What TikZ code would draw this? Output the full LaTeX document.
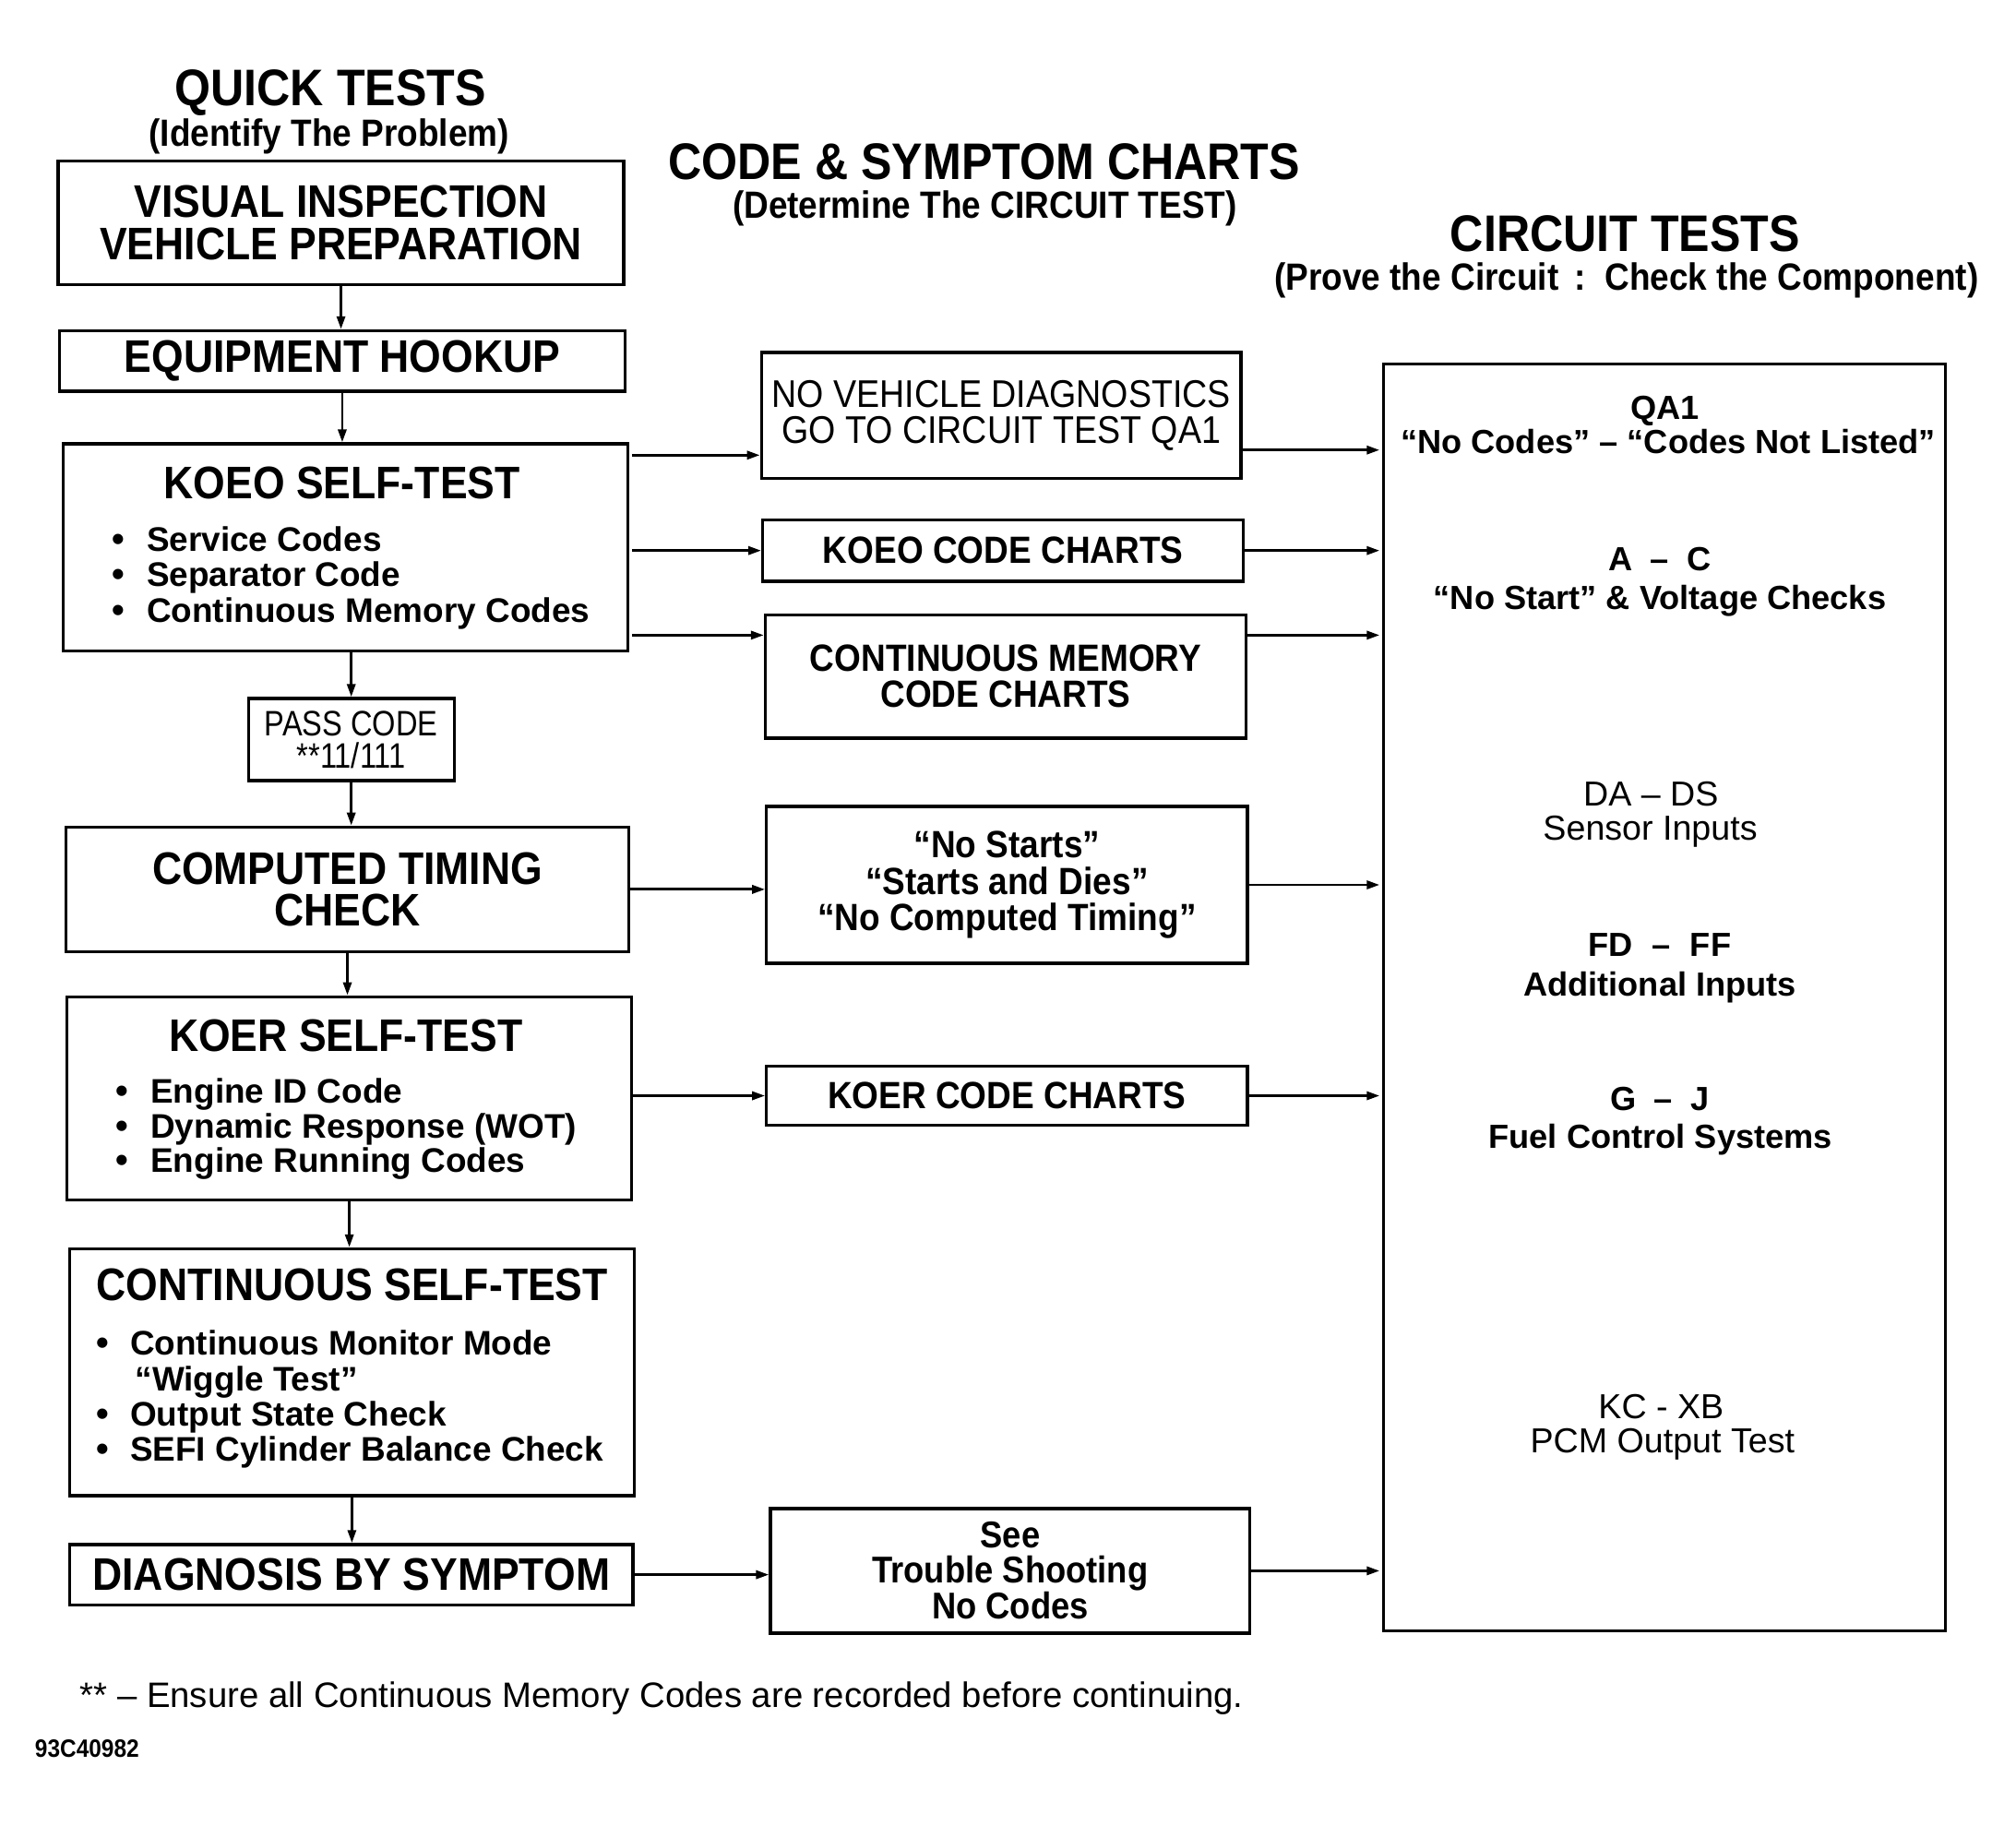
\documentclass[tikz,border=0pt]{standalone}
\usepackage{fontspec}
\setmainfont{Liberation Sans}
\newfontfamily\cb[FakeStretch=0.9]{Liberation Sans}
\newfontfamily\cn[FakeStretch=0.85]{Liberation Sans}
\usetikzlibrary{arrows.meta}
\newcommand\fsz[2]{\fontsize{#1}{#2}\selectfont}
\tikzset{
  box/.style={draw, line width=2.4pt, inner sep=0pt, anchor=north west, align=center},
  bigbox/.style={box, font=\cb\bfseries\fsz{35.5}{33}},
  midbox/.style={box, font=\cb\bfseries\fsz{29.5}{28}},
  txt/.style={inner sep=0pt, anchor=base},
  head/.style={txt, font=\cb\bfseries\fsz{40}{44}},
  subhead/.style={txt, font=\cb\bfseries\fsz{29.5}{32}},
  btitle/.style={txt, font=\cb\bfseries\fsz{35.5}{36}},
  bullet/.style={txt, font=\bfseries\fsz{28}{27}},
  btext/.style={inner sep=0pt, anchor=base west, font=\bfseries\fsz{26.5}{27}},
  rb/.style={txt, font=\bfseries\fsz{26}{27}},
  rr/.style={txt, font=\fsz{27}{28}},
  arr/.style={line width=2pt, -{Triangle[length=10pt,width=6.5pt]}}
}
\begin{document}
\begin{tikzpicture}[x=1pt,y=-1pt]
\useasboundingbox[fill=white] (0,0) rectangle (1568,1420);

% headings
\node[head] (qt) at (257,82.5) {QUICK TESTS};
\node[subhead] (qts) at (256,113.5) {(Identify The Problem)};
\node[head] (cs) at (765.5,139.5) {CODE \& SYMPTOM CHARTS};
\node[subhead] (css) at (766,170) {(Determine The CIRCUIT TEST)};
\node[head] (ctt) at (1264,195.5) {CIRCUIT TESTS};
\node[subhead] (cts) at (1265,225.5) {(Prove the Circuit \,:\, Check the Component)};

% left column
\node[bigbox, minimum width=440, minimum height=96] (vis) at (44,124) {VISUAL INSPECTION\\VEHICLE PREPARATION};
\node[bigbox, minimum width=440, minimum height=47] (equip) at (45,256) {EQUIPMENT HOOKUP};
\node[box, minimum width=439, minimum height=161] (koeo) at (48,344) {};
\node[btitle] (koeot) at (266,388) {KOEO SELF-TEST};
\node[bullet] (kb1) at (92,429) {•};
\node[btext] (kt1) at (114,429) {Service Codes};
\node[bullet] (kb2) at (92,456) {•};
\node[btext] (kt2) at (114,456) {Separator Code};
\node[bullet] (kb3) at (92,484) {•};
\node[btext] (kt3) at (114,484) {Continuous Memory Codes};

\node[box, minimum width=160, minimum height=64, font=\cn\fsz{27.5}{25}] (pass) at (192,542) {PASS CODE\\**11/111};

\node[bigbox, minimum width=438, minimum height=97, font=\cb\bfseries\fsz{35.5}{32}] (comp) at (50,642) {COMPUTED TIMING\\CHECK};

\node[box, minimum width=439, minimum height=158] (koer) at (51,774) {};
\node[btitle] (koert) at (269,817.5) {KOER SELF-TEST};
\node[bullet] (rb1) at (95,858) {•};
\node[btext] (rt1) at (117,858) {Engine ID Code};
\node[bullet] (rb2) at (95,885) {•};
\node[btext] (rt2) at (117,885) {Dynamic Response (WOT)};
\node[bullet] (rb3) at (95,912) {•};
\node[btext] (rt3) at (117,912) {Engine Running Codes};

\node[box, minimum width=439, minimum height=192] (cont) at (53,970) {};
\node[btitle] (contt) at (274,1011.5) {CONTINUOUS SELF-TEST};
\node[bullet] (cb1) at (80,1054) {•};
\node[btext] (ct1) at (101,1054) {Continuous Monitor Mode};
\node[btext] (ct1b) at (105,1082) {“Wiggle Test”};
\node[bullet] (cb2) at (80,1109) {•};
\node[btext] (ct2) at (101,1109) {Output State Check};
\node[bullet] (cb3) at (80,1136) {•};
\node[btext] (ct3) at (101,1136) {SEFI Cylinder Balance Check};

\node[bigbox, minimum width=438, minimum height=47] (diag) at (53,1200) {DIAGNOSIS BY SYMPTOM};

% middle column
\node[box, minimum width=373, minimum height=98, font=\cb\fsz{30}{28}] (nvd) at (591,273) {NO VEHICLE DIAGNOSTICS\\GO TO CIRCUIT TEST QA1};
\node[midbox, minimum width=374, minimum height=48] (koeoc) at (592,403) {KOEO CODE CHARTS};
\node[midbox, minimum width=374, minimum height=96] (cmc) at (594,477) {CONTINUOUS MEMORY\\CODE CHARTS};
\node[midbox, minimum width=374, minimum height=122] (nost) at (595,626) {“No Starts”\\“Starts and Dies”\\“No Computed Timing”};
\node[midbox, minimum width=374, minimum height=46] (koerc) at (595,828) {KOER CODE CHARTS};
\node[midbox, minimum width=373, minimum height=97, font=\cb\bfseries\fsz{29}{27}] (see) at (598,1172) {See\\Trouble Shooting\\No Codes};

% right column
\node[box, minimum width=437, minimum height=985] (ct) at (1075,282) {};
\node[rb] (r1) at (1295,326) {QA1};
\node[rb] (r2) at (1297.5,353) {“No Codes” – “Codes Not Listed”};
\node[rb] (r3) at (1291,444) {A\hspace{14pt}–\hspace{14pt}C};
\node[rb] (r4) at (1291,474) {“No Start” \& Voltage Checks};
\node[rr] (r5) at (1284,626.5) {DA – DS};
\node[rr] (r6) at (1283.5,653.5) {Sensor Inputs};
\node[rb] (r7) at (1291,744) {FD\hspace{15pt}–\hspace{15pt}FF};
\node[rb] (r8) at (1291,775) {Additional Inputs};
\node[rb] (r9) at (1291,864) {G\hspace{14pt}–\hspace{14pt}J};
\node[rb] (r10) at (1291.5,893) {Fuel Control Systems};
\node[rr] (r11) at (1292,1103) {KC - XB};
\node[rr] (r12) at (1293,1130) {PCM Output Test};

% footnotes
\node[inner sep=0pt, anchor=base west, font=\fsz{27.5}{28}] (fn) at (62,1328) {** – Ensure all Continuous Memory Codes are recorded before continuing.};
\node[inner sep=0pt, anchor=base west, font=\cb\bfseries\fsz{19.5}{20}] (id) at (27,1367) {93C40982};

% vertical arrows
\draw[arr] (vis.south) -- (vis.south |- equip.north);
\draw[arr] (equip.south) -- (equip.south |- koeo.north);
\draw[arr] (koeo.south -| pass.north) -- (pass.north);
\draw[arr] (pass.south) -- (pass.south |- comp.north);
\draw[arr] (comp.south) -- (comp.south |- koer.north);
\draw[arr] (koer.south) -- (koer.south |- cont.north);
\draw[arr] (cont.south) -- (cont.south |- diag.north);

% horizontal arrows left -> middle
\draw[arr] ([xshift=2pt]koeo.east |- 0,354) -- (nvd.west |- 0,354);
\draw[arr] ([xshift=2pt]koeo.east |- koeoc.west) -- (koeoc.west);
\draw[arr] ([xshift=2pt]koeo.east |- 0,494) -- (cmc.west |- 0,494);
\draw[arr] (comp.east) -- (nost.west |- comp.east);
\draw[arr] (koer.east |- koerc.west) -- (koerc.west);
\draw[arr] (diag.east) -- (see.west |- diag.east);

% horizontal arrows middle -> right
\draw[arr] (nvd.east |- 0,350) -- ([xshift=-2pt]ct.west |- 0,350);
\draw[arr] (koeoc.east) -- ([xshift=-2pt]ct.west |- koeoc.east);
\draw[arr] (cmc.east |- 0,494) -- ([xshift=-2pt]ct.west |- 0,494);
\draw[arr] (nost.east) -- ([xshift=-2pt]ct.west |- nost.east);
\draw[arr] (koerc.east) -- ([xshift=-2pt]ct.west |- koerc.east);
\draw[arr] (see.east) -- ([xshift=-2pt]ct.west |- see.east);
\end{tikzpicture}
\end{document}
